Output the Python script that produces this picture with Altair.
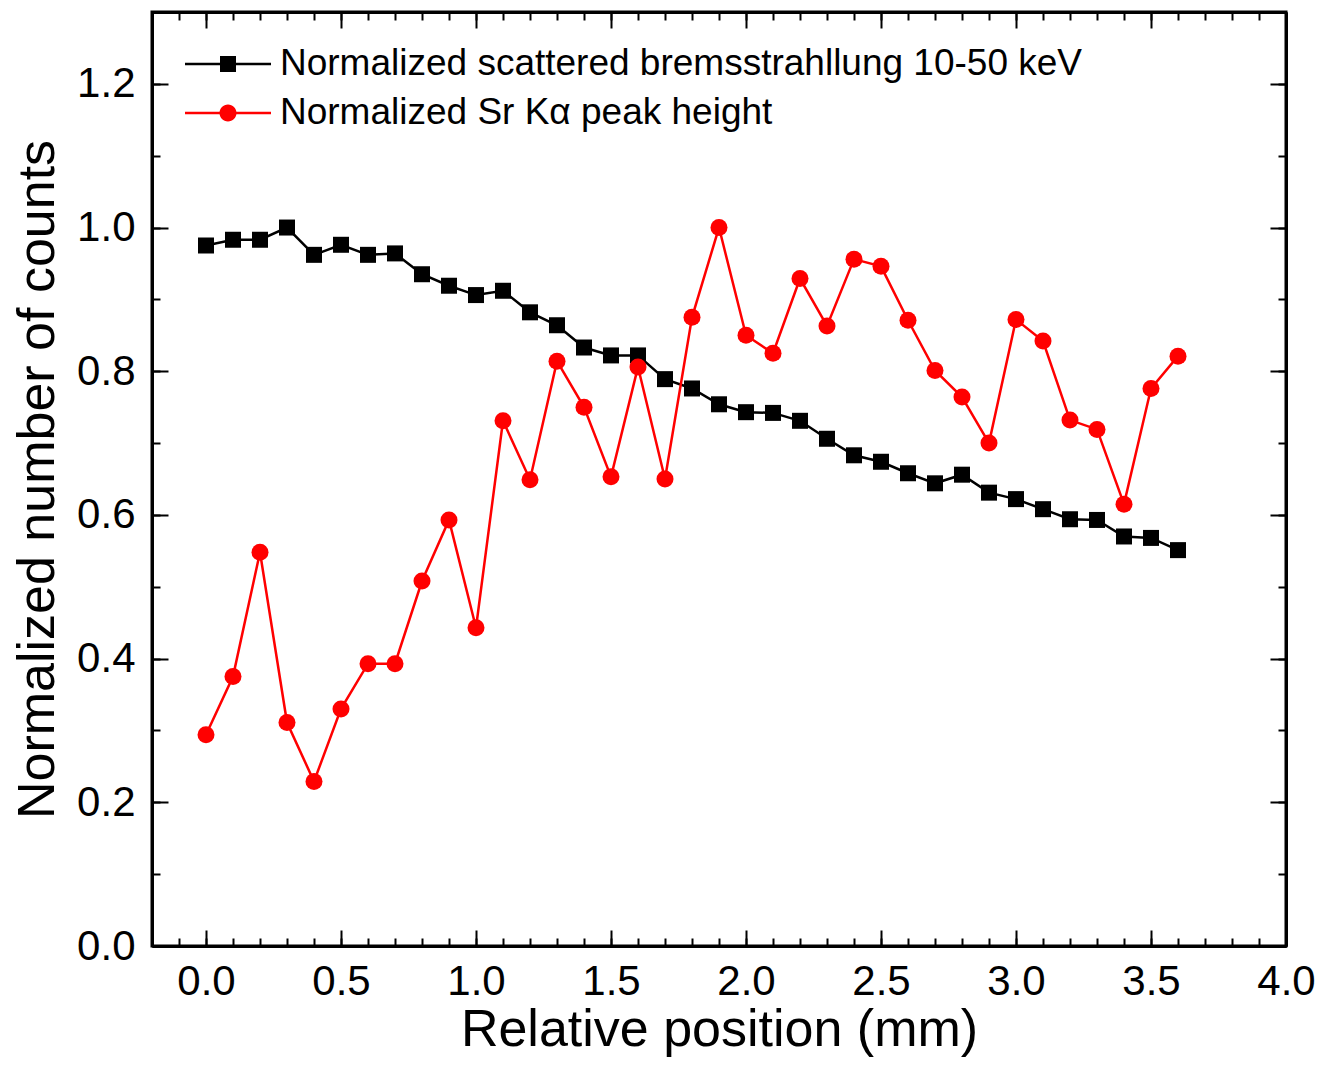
import altair as alt
import pandas as pd

# ---------------- data ----------------
positions = [round(0.1 * i, 1) for i in range(37)]

brems = [0.975, 0.983, 0.983, 1.000, 0.962, 0.976, 0.962, 0.964, 0.935, 0.919,
         0.906, 0.912, 0.882, 0.864, 0.833, 0.822, 0.822, 0.789, 0.776, 0.754,
         0.743, 0.742, 0.731, 0.706, 0.683, 0.674, 0.658, 0.644, 0.656, 0.631,
         0.622, 0.608, 0.594, 0.593, 0.570, 0.568, 0.551]

sr_ka = [0.294, 0.375, 0.548, 0.311, 0.229, 0.330, 0.393, 0.393, 0.508, 0.593,
         0.443, 0.731, 0.649, 0.814, 0.750, 0.653, 0.806, 0.650, 0.875, 1.000,
         0.850, 0.825, 0.929, 0.863, 0.956, 0.946, 0.871, 0.801, 0.764, 0.700,
         0.872, 0.842, 0.732, 0.719, 0.615, 0.776, 0.821]

series_names = ["Normalized scattered bremsstrahllung 10-50 keV",
                "Normalized Sr K\u03b1 peak height"]

x_major = [0.0, 0.5, 1.0, 1.5, 2.0, 2.5, 3.0, 3.5, 4.0]
x_minor = [round(-0.2 + 0.1 * i, 1) for i in range(43)]
y_major = [0.0, 0.2, 0.4, 0.6, 0.8, 1.0, 1.2]
y_minor = [round(0.1 * i, 1) for i in range(14)]

df = pd.DataFrame({
    "x": positions * 2,
    "y": brems + sr_ka,
    "series": [series_names[0]] * len(positions) + [series_names[1]] * len(positions),
})

FONT = "Liberation Sans"
xs = alt.Scale(domain=[-0.2, 4.0], nice=False, zero=False)
ys = alt.Scale(domain=[0.0, 1.3], nice=False, zero=False)

MAJ, MIN = 16, 8


def axis(orient, values, size, labels=False, title=None, pad=18, tpad=0):
    kw = dict(orient=orient, values=values, tickSize=size, offset=-size,
              domain=False, grid=False, ticks=True, tickColor="black",
              tickWidth=2, labels=labels)
    if labels:
        kw.update(format=".1f", labelFont=FONT, labelFontSize=42,
                  labelColor="black", labelPadding=pad, labelFlush=False,
                  labelOverlap=False)
    if title:
        kw.update(title=title, titleFont=FONT, titleFontSize=52,
                  titleFontWeight="normal", titleColor="black", titlePadding=tpad)
    else:
        kw.update(title=None)
    return alt.Axis(**kw)


def frame_axis(orient):
    return alt.Axis(orient=orient, domain=True, domainColor="black", domainWidth=3,
                    ticks=False, labels=False, grid=False, title=None, offset=0)


base = alt.Chart(df)
black = base.transform_filter(alt.datum.series == series_names[0])
red = base.transform_filter(alt.datum.series == series_names[1])
empty = base.transform_filter("false")

l1 = black.mark_line(color="black", strokeWidth=2.5).encode(
    x=alt.X("x:Q", scale=xs, axis=axis("bottom", x_major, MAJ, True, "Relative position (mm)", 15, 2)),
    y=alt.Y("y:Q", scale=ys, axis=axis("left", y_major, MAJ, True, "Normalized number of counts", 17, 12)),
)
l2 = black.mark_point(shape="square", filled=True, size=256, color="black", opacity=1).encode(
    x=alt.X("x:Q", scale=xs, axis=axis("bottom", x_minor, MIN)),
    y=alt.Y("y:Q", scale=ys, axis=axis("left", y_minor, MIN)),
)
l3 = red.mark_line(color="#ff0000", strokeWidth=2.5).encode(
    x=alt.X("x:Q", scale=xs, axis=axis("top", x_major, MAJ)),
    y=alt.Y("y:Q", scale=ys, axis=axis("right", y_major, MAJ)),
)
l4 = red.mark_point(shape="circle", filled=True, size=289, color="#ff0000", opacity=1).encode(
    x=alt.X("x:Q", scale=xs, axis=axis("top", x_minor, MIN)),
    y=alt.Y("y:Q", scale=ys, axis=axis("right", y_minor, MIN)),
)

sq_path = "M-2.15,-0.0625H2.15V0.0625H-2.15Z M-0.4,-0.4H0.4V0.4H-0.4Z"
ci_path = ("M-2.15,-0.0625H2.15V0.0625H-2.15Z "
           "M0.425,0A0.425,0.425 0 1,1 -0.425,0A0.425,0.425 0 1,1 0.425,0Z")

leg = dict(title=None, orient="none", legendX=56, legendY=32, symbolSize=1600,
           labelFont=FONT, labelFontSize=37, labelColor="black", labelLimit=2000,
           labelOffset=32, rowPadding=11, padding=0, symbolStrokeWidth=0,
           symbolOpacity=1)

l5 = empty.mark_point(filled=True, opacity=1, strokeWidth=0).encode(
    x=alt.X("x:Q", scale=xs, axis=frame_axis("bottom")),
    y=alt.Y("y:Q", scale=ys, axis=frame_axis("left")),
    color=alt.Color("series:N", scale=alt.Scale(domain=series_names, range=["black", "#ff0000"]),
                    legend=alt.Legend(**leg)),
    shape=alt.Shape("series:N", scale=alt.Scale(domain=series_names, range=[sq_path, ci_path]),
                    legend=alt.Legend(**leg)),
)
l6 = empty.mark_point(opacity=0).encode(
    x=alt.X("x:Q", scale=xs, axis=frame_axis("top")),
    y=alt.Y("y:Q", scale=ys, axis=frame_axis("right")),
)

chart = alt.layer(l1, l2, l3, l4, l5, l6).resolve_axis(
    x="independent", y="independent"
).properties(
    width=1134, height=934,
    autosize=alt.AutoSizeParams(type="none"),
    padding={"left": 144, "top": 4, "right": 40, "bottom": 111},
).configure_view(
    stroke="black", strokeWidth=3, fill="white"
)

chart.save("out.html", embed_options={"renderer": "svg", "actions": False})
